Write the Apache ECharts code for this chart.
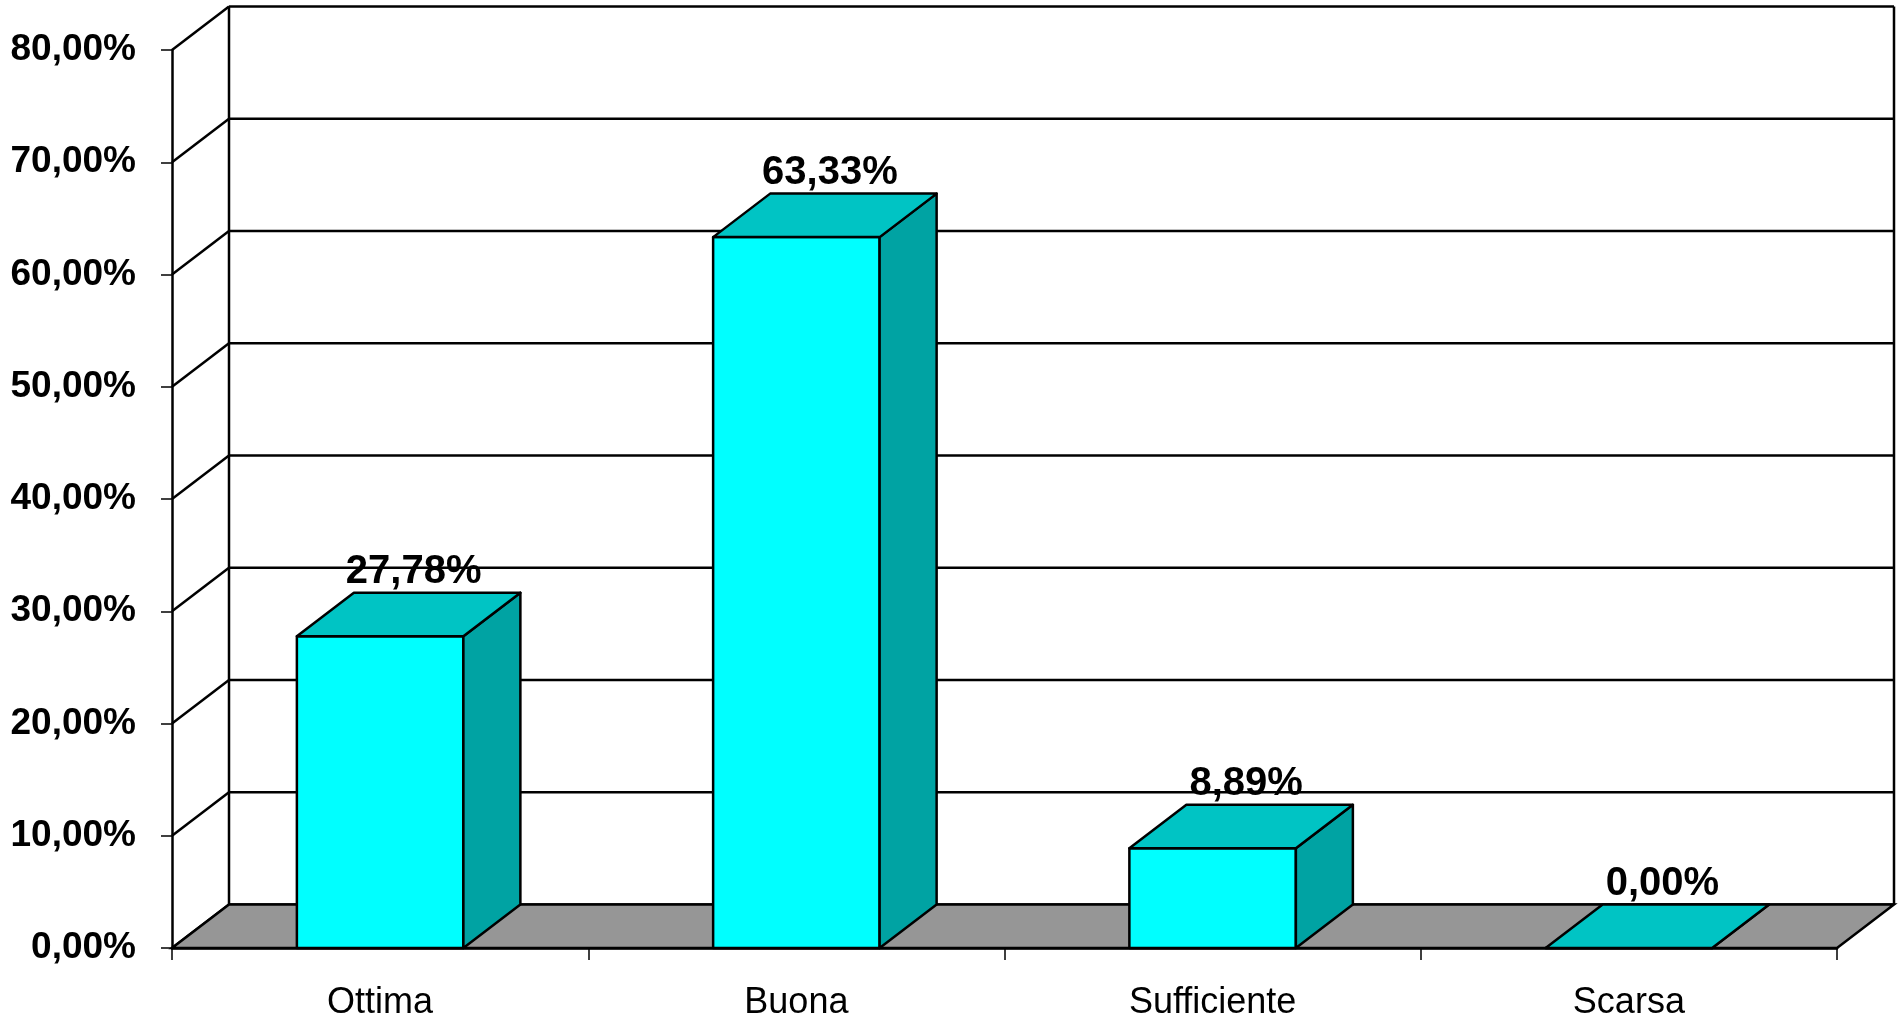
<!DOCTYPE html>
<html><head><meta charset="utf-8">
<script src="https://cdn.jsdelivr.net/npm/echarts@6/dist/echarts.min.js"></script>
<style>html,body{margin:0;padding:0;background:#fff}#c{width:1899px;height:1021px}</style>
</head><body><div id="c"></div>
<script>
// ---- data ----
const categories = ['Ottima', 'Buona', 'Sufficiente', 'Scarsa'];
const values = [27.78, 63.33, 8.89, 0.00];
const yTicks = [0, 10, 20, 30, 40, 50, 60, 70, 80];

// ---- style constants ----
const DX = 57, DY = 43.5;          // 3D depth offset in px
const LW = 2.5;
const FONT = 'Arial, "Liberation Sans", sans-serif';
const LINE = { stroke: '#000', lineWidth: LW };
const fmt = v => v.toFixed(2).replace('.', ',') + '%';

const chart = echarts.init(document.getElementById('c'), null, { renderer: 'canvas' });

function edges(api, v) {
  const bw = api.size([1, 0])[0];
  const p0 = api.coord([0, v]);
  const p1 = api.coord([categories.length - 1, v]);
  return { xL: p0[0] - bw / 2, xR: p1[0] + bw / 2, y: p0[1] };
}

function renderWall(params, api) {
  const v = api.value(1);
  const e = edges(api, v);
  const children = [
    { type: 'line', shape: { x1: e.xL, y1: e.y, x2: e.xL + DX, y2: e.y - DY }, style: LINE },
    { type: 'line', shape: { x1: e.xL + DX, y1: e.y - DY, x2: e.xR + DX, y2: e.y - DY }, style: LINE }
  ];
  if (params.dataIndex === 0) {
    const top = edges(api, yTicks[yTicks.length - 1]);
    children.push(
      { type: 'line', shape: { x1: e.xL + DX, y1: e.y - DY, x2: top.xL + DX, y2: top.y - DY }, style: LINE },
      { type: 'line', shape: { x1: e.xR + DX, y1: e.y - DY, x2: top.xR + DX, y2: top.y - DY }, style: LINE },
      { type: 'polygon', shape: { points: [[e.xL, e.y], [e.xR, e.y], [e.xR + DX, e.y - DY], [e.xL + DX, e.y - DY]] },
        style: { fill: '#969696', stroke: '#000', lineWidth: LW } }
    );
  }
  return { type: 'group', children: children };
}

function renderBar(params, api) {
  const i = api.value(0), v = api.value(1);
  const bw = api.size([1, 0])[0] * 0.4;
  const top = api.coord([i, v]), base = api.coord([i, 0]);
  const x0 = top[0] - bw / 2, x1 = top[0] + bw / 2, yt = top[1], yb = base[1];
  const st = c => ({ fill: c, stroke: '#000', lineWidth: LW, lineJoin: 'round' });
  return {
    type: 'group',
    children: [
      { type: 'polygon', shape: { points: [[x0, yt], [x1, yt], [x1, yb], [x0, yb]] }, style: st('#00FFFF') },
      { type: 'polygon', shape: { points: [[x1, yt], [x1 + DX, yt - DY], [x1 + DX, yb - DY], [x1, yb]] }, style: st('#00A3A3') },
      { type: 'polygon', shape: { points: [[x0, yt], [x1, yt], [x1 + DX, yt - DY], [x0 + DX, yt - DY]] }, style: st('#00C4C4') },
      { type: 'text', x: top[0] + DX / 2 + 5, y: yt - DY - 1,
        style: { text: fmt(v), fill: '#000', font: 'bold 40px ' + FONT, align: 'center', verticalAlign: 'bottom' } }
    ]
  };
}

chart.setOption({
  animation: false,
  grid: { left: 172, right: 62, top: 50, bottom: 71 },
  xAxis: {
    type: 'category', data: categories, z: 10,
    axisLine: { show: true, lineStyle: { color: '#000', width: LW } },
    axisTick: { show: true, length: 12, alignWithLabel: false, lineStyle: { color: '#000', width: 1.5 } },
    axisLabel: { interval: 0, margin: 37, color: '#000', fontSize: 36, fontFamily: FONT },
    splitLine: { show: false }
  },
  yAxis: {
    type: 'value', min: yTicks[0], max: yTicks[yTicks.length - 1], interval: 10, z: 10,
    axisLine: { show: true, lineStyle: { color: '#000', width: LW } },
    axisTick: { show: true, length: 11, lineStyle: { color: '#000', width: 1.5 } },
    axisLabel: { margin: 36, color: '#000', fontSize: 37, fontWeight: 'bold', fontFamily: FONT, formatter: v => fmt(v) },
    splitLine: { show: false }
  },
  series: [
    { type: 'custom', z: 1, renderItem: renderWall, data: yTicks.map(t => [0, t]), encode: { x: 0, y: 1 }, silent: true },
    { type: 'custom', z: 3, renderItem: renderBar, data: values.map((v, i) => [i, v]), encode: { x: 0, y: 1 }, silent: true }
  ]
});
</script>
</body></html>
